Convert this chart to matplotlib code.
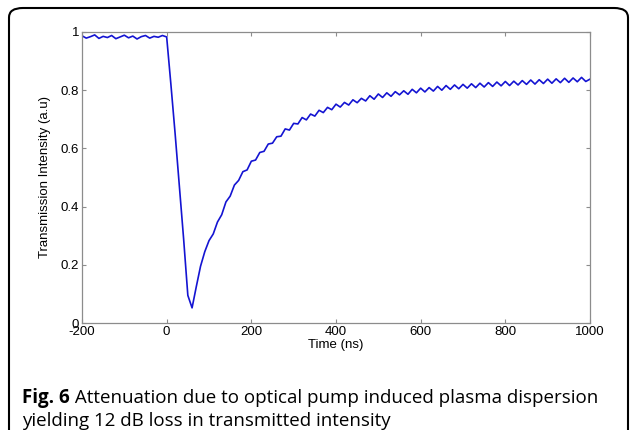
import matplotlib
matplotlib.use('Agg')
import matplotlib.pyplot as plt
from matplotlib.patches import FancyBboxPatch

# time samples (ns)
time_ns = [-200, -190, -180, -170, -160, -150, -140, -130, -120, -110,
           -100, -90, -80, -70, -60, -50, -40, -30, -20, -10,
           0, 10, 20, 30, 40, 50, 60, 70, 80, 90,
           100, 110, 120, 130, 140, 150, 160, 170, 180, 190,
           200, 210, 220, 230, 240, 250, 260, 270, 280, 290,
           300, 310, 320, 330, 340, 350, 360, 370, 380, 390,
           400, 410, 420, 430, 440, 450, 460, 470, 480, 490,
           500, 510, 520, 530, 540, 550, 560, 570, 580, 590,
           600, 610, 620, 630, 640, 650, 660, 670, 680, 690,
           700, 710, 720, 730, 740, 750, 760, 770, 780, 790,
           800, 810, 820, 830, 840, 850, 860, 870, 880, 890,
           900, 910, 920, 930, 940, 950, 960, 970, 980, 990,
           1000]

# transmission (a.u)
intensity = [0.987, 0.979, 0.984, 0.990, 0.978, 0.985, 0.981, 0.988, 0.977, 0.983,
             0.989, 0.980, 0.986, 0.976, 0.984, 0.988, 0.979, 0.985, 0.982, 0.988,
             0.983, 0.820, 0.650, 0.470, 0.290, 0.095, 0.052, 0.125, 0.195, 0.245,
             0.283, 0.306, 0.347, 0.372, 0.416, 0.436, 0.474, 0.490, 0.520, 0.526,
             0.556, 0.560, 0.586, 0.590, 0.615, 0.618, 0.640, 0.642, 0.667, 0.663,
             0.686, 0.684, 0.706, 0.698, 0.718, 0.711, 0.731, 0.723, 0.741, 0.733,
             0.752, 0.742, 0.758, 0.749, 0.767, 0.757, 0.772, 0.763, 0.781, 0.769,
             0.787, 0.775, 0.791, 0.779, 0.795, 0.784, 0.798, 0.786, 0.803, 0.791,
             0.807, 0.794, 0.809, 0.797, 0.813, 0.800, 0.816, 0.803, 0.818, 0.805,
             0.820, 0.807, 0.822, 0.809, 0.824, 0.811, 0.826, 0.813, 0.828, 0.815,
             0.830, 0.816, 0.831, 0.818, 0.833, 0.820, 0.835, 0.821, 0.836, 0.823,
             0.838, 0.824, 0.839, 0.826, 0.841, 0.827, 0.842, 0.829, 0.844, 0.830,
             0.838]

x_ticks = [-200, 0, 200, 400, 600, 800, 1000]
y_ticks = [0, 0.2, 0.4, 0.6, 0.8, 1]
y_tick_labels = ['0', '0.2', '0.4', '0.6', '0.8', '1']

caption_bold = 'Fig. 6'
caption_line1 = ' Attenuation due to optical pump induced plasma dispersion'
caption_line2 = 'yielding 12 dB loss in transmitted intensity'

plt.rcParams['font.family'] = ['Liberation Sans', 'DejaVu Sans']
plt.rcParams['axes.unicode_minus'] = False

fig = plt.figure(figsize=(6.3, 4.3), dpi=100)

# rounded frame around figure + caption
frame = FancyBboxPatch((9 / 630, -0.2), 619 / 630, 1 - 8 / 430 + 0.2,
                       boxstyle='round,pad=0,rounding_size=0.022',
                       transform=fig.transFigure, fill=False,
                       edgecolor='black', linewidth=1.5)
fig.patches.append(frame)

ax = fig.add_axes([82 / 630, 1 - 323 / 430, 508 / 630, 291 / 430])
ax.plot(time_ns, intensity, color='#1414d2', linewidth=1.2)
ax.set_xlim(-200, 1000)
ax.set_ylim(0, 1)
ax.set_xticks(x_ticks)
ax.set_yticks(y_ticks)
ax.set_yticklabels(y_tick_labels)
ax.tick_params(direction='in', length=3, width=0.8, colors='#8c8c8c',
               labelcolor='black', labelsize=9.5, pad=2,
               top=True, right=True)
for s in ax.spines.values():
    s.set_color('#8c8c8c')
    s.set_linewidth(0.9)
ax.set_xlabel('Time (ns)', fontsize=9.5, labelpad=1)
ax.set_ylabel('Transmission Intensity (a.u)', fontsize=9.5, labelpad=7)

cap_font = ['Open Sans', 'DejaVu Sans']
cap_size = 13.5
t1 = fig.text(22 / 630, 1 - 398 / 430, caption_bold, fontsize=cap_size, fontweight='bold',
              family=cap_font, va='center', ha='left')
fig.canvas.draw()
bb = t1.get_window_extent()
fig.text(bb.x1 / 630, 1 - 398 / 430, caption_line1, fontsize=cap_size, family=cap_font,
         va='center', ha='left')
fig.text(22 / 630, 1 - 421 / 430, caption_line2, fontsize=cap_size, family=cap_font,
         va='center', ha='left')

fig.savefig('out.png', dpi=100)
